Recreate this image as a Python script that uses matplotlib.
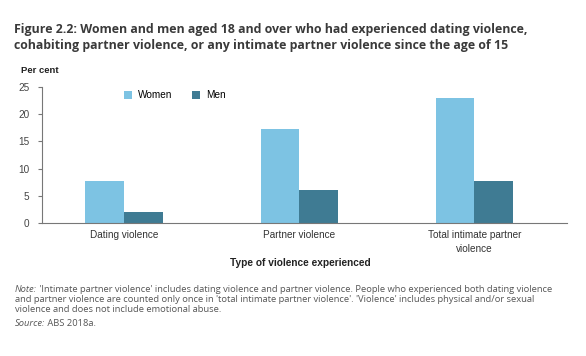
import matplotlib.pyplot as plt
import numpy as np

plt.rcParams.update({'font.family': ['Liberation Sans', 'DejaVu Sans']})

categories = ['Dating violence', 'Partner violence', 'Total intimate partner\nviolence']
women = [7.8, 17.3, 23.0]
men = [2.1, 6.1, 7.7]
yticks = [0, 5, 10, 15, 20, 25]

c_women = '#7dc3e3'
c_men = '#3f7b93'

fig = plt.figure(figsize=(5.86, 3.56), dpi=100)
ax = fig.add_axes([0.0712, 0.3728, 0.8964, 0.3837])

x = np.arange(len(categories))
w = 0.22
ax.bar(x - w/2, women, w, color=c_women, label='Women')
ax.bar(x + w/2, men, w, color=c_men, label='Men')

ax.set_xlim(-0.47, 2.53)
ax.set_ylim(0, 25)
ax.set_yticks(yticks)
ax.set_xticks(x)
ax.set_xticklabels(categories, fontsize=7.2, color='#333333', linespacing=1.5)
ax.tick_params(axis='x', length=0, pad=5)
ax.tick_params(axis='y', labelsize=7.2, labelcolor='#444444', length=3, width=0.8,
               color='#777777', pad=6)
for s in ['top', 'right']:
    ax.spines[s].set_visible(False)
ax.spines['left'].set_color('#777777')
ax.spines['bottom'].set_color('#777777')

ax.legend(loc='upper left', bbox_to_anchor=(0.139, 1.04), ncol=2, frameon=False,
          fontsize=7.2, handlelength=0.8, handleheight=0.8, columnspacing=2.0,
          handletextpad=0.6)

fig.text(0.024, 0.895, 'Figure 2.2: Women and men aged 18 and over who had experienced dating violence,\n'
         'cohabiting partner violence, or any intimate partner violence since the age of 15',
         fontsize=8.9, fontweight='bold', family='Open Sans', color='#3a3a3a',
         va='center', linespacing=1.25)
fig.text(0.036, 0.803, 'Per cent', fontsize=6.8, fontweight='bold', color='#222222', va='center')
fig.text(0.512, 0.262, 'Type of violence experienced', fontsize=7.3, fontweight='bold',
         color='#222222', ha='center', va='center')

# note and source, with italic lead words
note_kw = dict(fontsize=6.75, family='Open Sans', color='#555555')
note_lines = ["'Intimate partner violence' includes dating violence and partner violence. "
              "People who experienced both dating violence",
              "and partner violence are counted only once in 'total intimate partner violence'. "
              "'Violence' includes physical and/or sexual",
              "violence and does not include emotional abuse."]
t_note = fig.text(0.025, 1 - 289/356, 'Note:', style='italic', va='center', **note_kw)
ax.annotate(' ' + note_lines[0], xy=(1, 0.5), xycoords=t_note, va='center', **note_kw)
fig.text(0.025, 1 - 299/356, note_lines[1], va='center', **note_kw)
fig.text(0.025, 1 - 309/356, note_lines[2], va='center', **note_kw)
t_src = fig.text(0.025, 1 - 324/356, 'Source:', style='italic', va='center', **note_kw)
ax.annotate(' ABS 2018a.', xy=(1, 0.5), xycoords=t_src, va='center', **note_kw)

fig.savefig('out.png', dpi=100, facecolor='white')
